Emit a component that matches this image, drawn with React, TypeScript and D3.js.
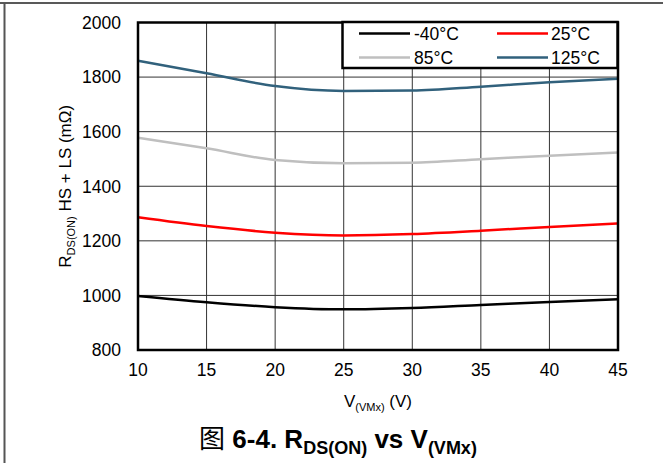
import React from "react";
import * as d3 from "d3";

const voltages = [10, 15, 20, 25, 30, 35, 40, 45];
const seriesNames = ["-40°C", "25°C", "85°C", "125°C"];
const seriesColors = ["#000000", "#ff0000", "#bfbfbf", "#31617c"];
const rMinus40 = [998, 975, 957, 949, 954, 965, 976, 986];
const r25 = [1286, 1254, 1230, 1220, 1225, 1237, 1251, 1264];
const r85 = [1578, 1539, 1496, 1484, 1486, 1499, 1512, 1524];
const r125 = [1860, 1814, 1767, 1749, 1751, 1765, 1781, 1794];
const seriesValues = [rMinus40, r25, r85, r125];
const xTicks = [10, 15, 20, 25, 30, 35, 40, 45];
const yTicks = [800, 1000, 1200, 1400, 1600, 1800, 2000];

const W = 663;
const H = 463;
const L = 138, R = 618, T = 22.5, B = 350;
const FONT = "'Liberation Sans', Arial, Helvetica, sans-serif";

export default function App() {
  const x = d3.scaleLinear().domain([10, 45]).range([L, R]);
  const y = d3.scaleLinear().domain([800, 2000]).range([B, T]);
  const line = d3
    .line<number>()
    .x((_, i) => x(voltages[i]))
    .y((d) => y(d))
    .curve(d3.curveMonotoneX);

  const legendItems = [
    { i: 0, lx: 359, ly: 33.5, tx: 414 },
    { i: 1, lx: 497, ly: 33.5, tx: 551 },
    { i: 2, lx: 359, ly: 57.5, tx: 414 },
    { i: 3, lx: 497, ly: 57.5, tx: 551 },
  ];

  return (
    <svg
      width={W}
      height={H}
      style={{ position: "absolute", left: 0, top: 0, background: "#fff" }}
      fontFamily={FONT}
    >
      <rect x={0} y={0} width={W} height={H} fill="#fff" />
      {/* outer frame lines */}
      <line x1={0} x2={W} y1={3} y2={3} stroke="#222" strokeWidth={1.5} />
      <line x1={4.5} x2={4.5} y1={3} y2={H} stroke="#555" strokeWidth={2} />

      {/* grid */}
      {xTicks.map((t) => (
        <line key={"gx" + t} x1={x(t)} x2={x(t)} y1={T} y2={B} stroke="#333" strokeWidth={1} />
      ))}
      {yTicks.map((t) => (
        <line key={"gy" + t} x1={L} x2={R} y1={y(t)} y2={y(t)} stroke="#333" strokeWidth={1} />
      ))}

      {/* series */}
      {seriesValues.map((vals, i) => (
        <path
          key={seriesNames[i]}
          d={line(vals) || ""}
          fill="none"
          stroke={seriesColors[i]}
          strokeWidth={2.5}
        />
      ))}

      {/* plot border */}
      <rect x={L} y={T} width={R - L} height={B - T} fill="none" stroke="#000" strokeWidth={2.5} />

      {/* legend */}
      <rect x={342.5} y={22} width={275} height={46} fill="#fff" stroke="#000" strokeWidth={2.5} />
      {legendItems.map((it) => (
        <g key={"lg" + it.i}>
          <line x1={it.lx} x2={it.lx + 51} y1={it.ly} y2={it.ly} stroke={seriesColors[it.i]} strokeWidth={2.5} />
          <text x={it.tx} y={it.ly} dy="0.36em" fontSize={17.5} fill="#000">
            {seriesNames[it.i]}
          </text>
        </g>
      ))}

      {/* y tick labels */}
      {yTicks.map((t) => (
        <text key={"yl" + t} x={121} y={y(t)} dy="0.36em" textAnchor="end" fontSize={17.5} fill="#000">
          {t}
        </text>
      ))}
      {/* x tick labels */}
      {xTicks.map((t) => (
        <text key={"xl" + t} x={x(t)} y={376} textAnchor="middle" fontSize={17.5} fill="#000">
          {t}
        </text>
      ))}

      {/* x axis label */}
      <text x={(L + R) / 2} y={407} textAnchor="middle" fontSize={17} fill="#000">
        V<tspan fontSize={11} dy={4}>(VMx)</tspan>
        <tspan dy={-4}> (V)</tspan>
      </text>

      {/* y axis label */}
      <text
        transform={`translate(71, ${(T + B) / 2}) rotate(-90)`}
        textAnchor="middle"
        fontSize={17}
        fill="#000"
      >
        R<tspan fontSize={11} dy={4}>DS(ON)</tspan>
        <tspan dy={-4}> HS + LS (mΩ)</tspan>
      </text>

      {/* title */}
      <text x={338} y={448} textAnchor="middle" fontSize={26} fontWeight="bold" fill="#000">
        <tspan fontFamily="'Noto Sans CJK SC', sans-serif" fontWeight="normal">图</tspan>
        <tspan> 6-4. R</tspan>
        <tspan fontSize={18} dy={6}>DS(ON)</tspan>
        <tspan dy={-6}> vs V</tspan>
        <tspan fontSize={18} dy={6}>(VMx)</tspan>
      </text>
    </svg>
  );
}
